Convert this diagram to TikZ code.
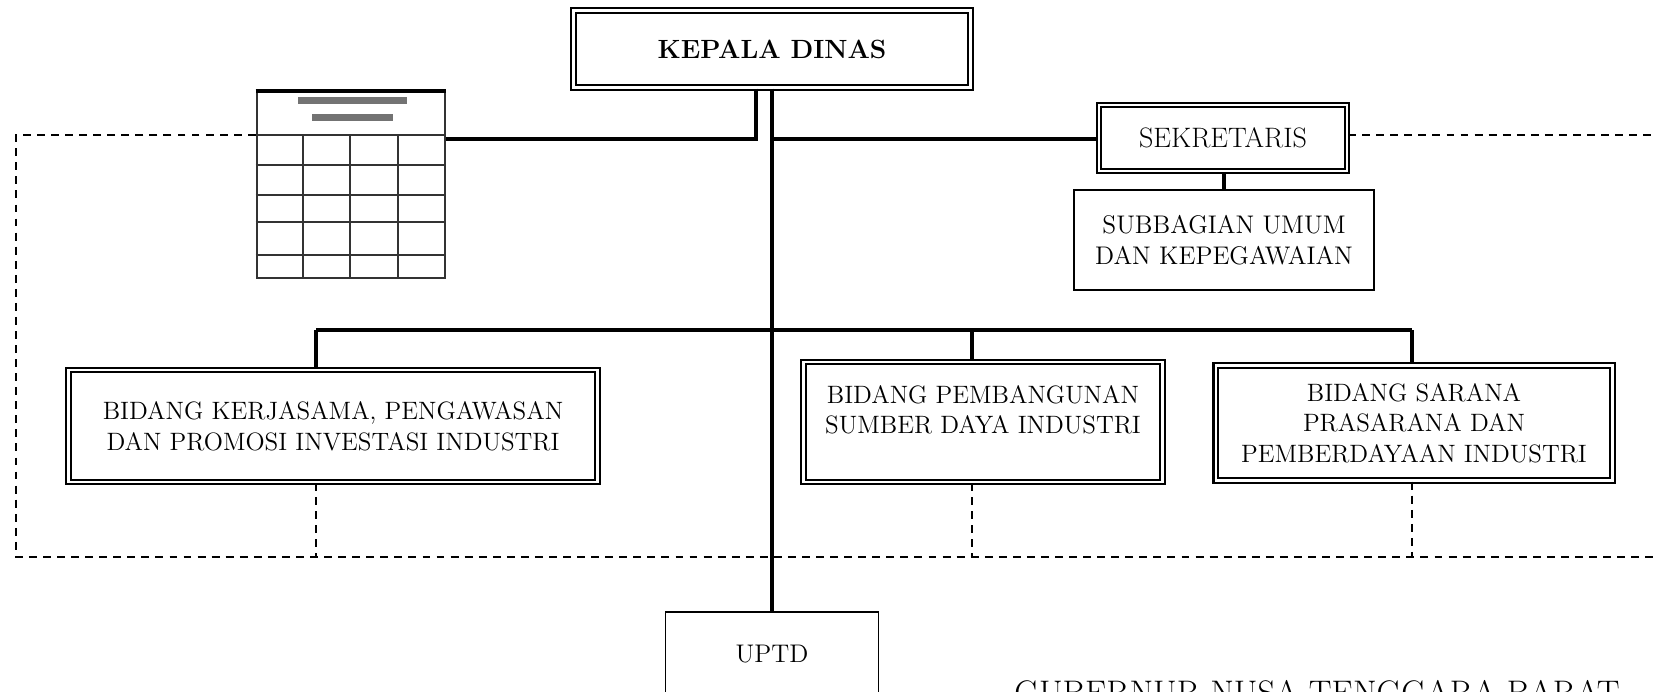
\documentclass[tikz,border=0pt]{standalone}
\usepackage{tikz}
\usetikzlibrary{positioning}

\tikzset{
  unitbox/.style={draw, line width=1.3pt, double, double distance=1.2pt, align=center,
    inner sep=2pt, font=\fontsize{14.3}{17.4}\selectfont},
  plainbox/.style={draw, line width=1pt, align=center, inner sep=2pt,
    font=\fontsize{14.5}{17.4}\selectfont},
  solidlink/.style={line width=1.9pt},
  dashlink/.style={line width=0.9pt, dash pattern=on 4.5pt off 3.5pt},
  gridline/.style={line width=1.5pt, black!80},
}

\begin{document}
\begin{tikzpicture}[x=0.02cm,y=-0.02cm]
                \useasboundingbox (0,0) rectangle (1656,691);
                \clip (0,0) rectangle (1656,691);
                % boxes
                \node (kepala) [unitbox, minimum width=7.94cm, minimum height=1.54cm,
                  font=\fontsize{15}{17}\selectfont\bfseries] at (772,49) {KEPALA DINAS};
                \node (sekr) [unitbox, minimum width=4.96cm, minimum height=1.32cm,
                  font=\fontsize{16}{18}\selectfont] at (1223,138) {SEKRETARIS};
                \node (subbag) [plainbox, minimum width=6cm, minimum height=2cm] at (1224,240)
                  {SUBBAGIAN UMUM\\DAN KEPEGAWAIAN};
                \node (kerja) [unitbox, minimum width=10.58cm, minimum height=2.24cm] at (333,426)
                  {BIDANG KERJASAMA, PENGAWASAN\\DAN PROMOSI INVESTASI INDUSTRI};
                \node (pemb) [unitbox, minimum width=7.18cm, minimum height=2.4cm, text depth=0.5cm] at (983,422)
                  {BIDANG PEMBANGUNAN\\SUMBER DAYA INDUSTRI};
                \node (sarana) [unitbox, minimum width=7.94cm, minimum height=2.3cm] at (1414,423)
                  {BIDANG SARANA\\PRASARANA DAN\\PEMBERDAYAAN INDUSTRI};
                \node (uptd) [plainbox, minimum width=4.26cm, minimum height=1.68cm] at (772,654) {UPTD};
                \node (gub) [anchor=base west, inner sep=0pt, font=\fontsize{19.4}{21}\selectfont]
                  at (1014,704) {GUBERNUR NUSA TENGGARA BARAT};
                % table
                \node (tbl) [draw, gridline, minimum width=3.76cm, minimum height=3.72cm] at (351,185) {};
                \draw [line width=2.4pt] (tbl.north west) -- (tbl.north east);
                \foreach \y in {135,165,195,222,255}
                  \draw [gridline] (tbl.west |- 0,\y) -- (tbl.east |- 0,\y);
                \foreach \x in {303,350,398}
                  \draw [gridline] (\x,135) -- (\x,0 |- tbl.south);
                \fill [black!55] (298,97) rectangle (407,104);
                \fill [black!55] (312,114) rectangle (393,121);
                % solid links
                \coordinate (split) at (772,139);
                \coordinate (lbend) at (756,139);
                \draw [solidlink] (kepala.south) -- (uptd.north);
                \draw [solidlink] (split) -- (split -| sekr.west);
                \draw [solidlink] (kepala.south -| lbend) -- (lbend) -- (lbend -| tbl.east);
                \draw [solidlink] (sekr.south -| subbag.north) -- (subbag.north);
                \coordinate (busL) at (316,330);
                \coordinate (busM) at (972,330);
                \coordinate (busR) at (1412,330);
                \draw [solidlink] (busL) -- (busR);
                \draw [solidlink] (busL) -- (busL |- kerja.north);
                \draw [solidlink] (busM) -- (busM |- pemb.north);
                \draw [solidlink] (busR) -- (busR |- sarana.north);
                % dashed lines
                \coordinate (dl) at (16,135);
                \coordinate (dr) at (1670,557);
                \draw [dashlink] (dl -| tbl.west) -- (dl) |- (dr);
                \draw [dashlink] (sekr.east |- dl) -- (dr |- dl);
                \draw [dashlink] (busL |- kerja.south) -- (busL |- dr);
                \draw [dashlink] (busM |- pemb.south) -- (busM |- dr);
                \draw [dashlink] (busR |- sarana.south) -- (busR |- dr);
            \end{tikzpicture}
\end{document}
